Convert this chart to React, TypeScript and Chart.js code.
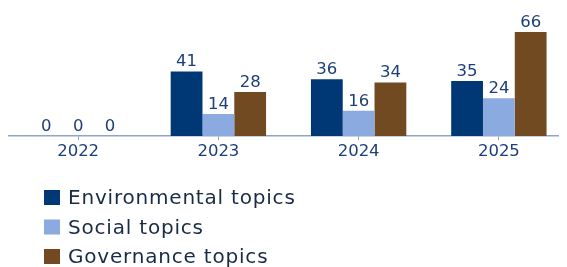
import React, { useEffect, useRef } from "react";
import { Chart, registerables } from "chart.js";

Chart.register(...registerables);

const categories = ["2022", "2023", "2024", "2025"];
const environmental = [0, 41, 36, 35];
const social = [0, 14, 16, 24];
const governance = [0, 28, 34, 66];
const seriesNames = ["Environmental topics", "Social topics", "Governance topics"];
const seriesColors = ["#003876", "#8aaae0", "#724a22"];

const valueFont = "16.5px 'DejaVu Sans'";
const textBlue = "#1d3f78";
const legendFont = "20px 'DejaVu Sans'";
const legendColor = "#1a2b45";

const valueLabels = {
  id: "valueLabels",
  afterDatasetsDraw(chart: any) {
    const ctx = chart.ctx;
    ctx.save();
    ctx.font = valueFont;
    ctx.fillStyle = textBlue;
    ctx.textAlign = "center";
    ctx.textBaseline = "alphabetic";
    chart.data.datasets.forEach((ds: any, i: number) => {
      const meta = chart.getDatasetMeta(i);
      meta.data.forEach((el: any, j: number) => {
        ctx.fillText(String(ds.data[j]), el.x, el.y - 5);
      });
    });
    ctx.restore();
  },
};

const customLegend = {
  id: "customLegend",
  afterDraw(chart: any) {
    const ctx = chart.ctx;
    ctx.save();
    ctx.font = legendFont;
    (ctx as any).letterSpacing = "0.8px";
    ctx.textAlign = "left";
    ctx.textBaseline = "alphabetic";
    chart.data.datasets.forEach((ds: any, i: number) => {
      const top = 190 + i * 29.5;
      ctx.fillStyle = ds.backgroundColor;
      ctx.fillRect(36, top, 16, 15);
      ctx.fillStyle = legendColor;
      ctx.fillText(ds.label, 60, top + 14);
    });
    ctx.restore();
  },
};

export default function App() {
  const ref = useRef<HTMLCanvasElement>(null);
  useEffect(() => {
    document.body.style.overflow = "hidden";
    const values = [environmental, social, governance];
    const chart = new Chart(ref.current!, {
      type: "bar",
      data: {
        labels: categories,
        datasets: values.map((d, i) => ({
          label: seriesNames[i],
          data: d,
          backgroundColor: seriesColors[i],
          categoryPercentage: 0.68,
          barPercentage: 1,
        })),
      },
      options: {
        animation: false,
        responsive: false,
        layout: { padding: { top: 10, bottom: 101, left: 0, right: 0 } },
        plugins: { legend: { display: false }, tooltip: { enabled: false } },
        scales: {
          x: {
            grid: {
              offset: false,
              drawOnChartArea: false,
              drawTicks: true,
              tickLength: 4,
              color: "#8fa6cc",
            },
            border: { color: "#8fa6cc", width: 1.5 },
            ticks: {
              color: textBlue,
              font: { family: "DejaVu Sans", size: 16.5 },
              padding: 2,
            },
            afterFit: (s: any) => {
              s.height = 30;
            },
          },
          y: { display: false, min: 0, max: 80 },
        },
      },
      plugins: [valueLabels, customLegend],
    });
    return () => chart.destroy();
  }, []);
  return (
    <div style={{ position: "relative", width: 561, height: 267 }}>
      <canvas ref={ref} width={561} height={267} style={{ position: "absolute", left: 0, top: -8 }} />
    </div>
  );
}
